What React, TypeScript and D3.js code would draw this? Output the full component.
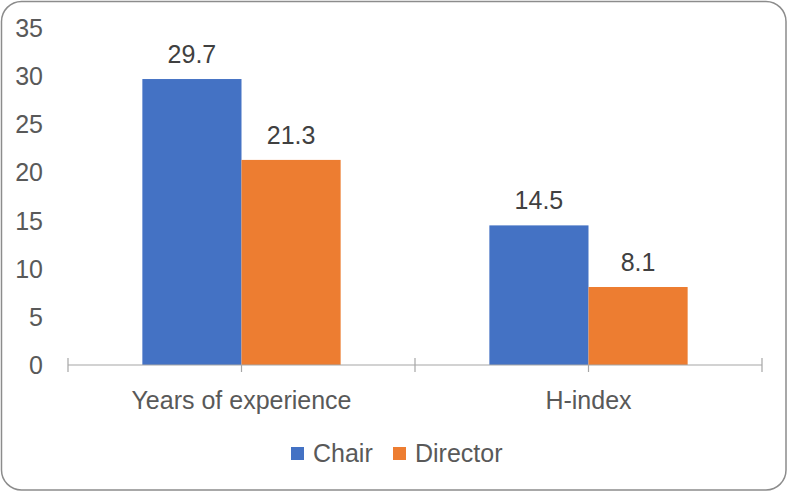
import React from "react";
import * as d3 from "d3";

const categories = ["Years of experience", "H-index"];
const seriesNames = ["Chair", "Director"];
const chairValues = [29.7, 14.5];
const directorValues = [21.3, 8.1];
const yTicks = [0, 5, 10, 15, 20, 25, 30, 35];
const colors = ["#4472C4", "#ED7D31"];

const W = 788;
const H = 492;
const FONT = "'Liberation Sans', Arial, sans-serif";
const FS = 25;

export default function App() {
  const x0 = d3.scaleBand<string>().domain(categories).range([68, 762]).paddingInner(0).paddingOuter(0);
  const x1 = d3.scaleBand<string>().domain(seriesNames).range([0, x0.bandwidth()]).paddingInner(0).paddingOuter(0.75);
  const y = d3.scaleLinear().domain([0, 35]).range([365, 28]);
  const values = [chairValues, directorValues];
  const fmt = d3.format(".1f");
  const baseY = y(0);
  const boundaries = [...categories.map((c) => x0(c)!), x0(categories[categories.length - 1])! + x0.bandwidth()];

  return (
    <svg width={W} height={H} style={{ position: "absolute", left: 0, top: 0, fontFamily: FONT }}>
      <rect x={0} y={0} width={W} height={H} fill="#ffffff" />
      <rect x={1.5} y={1.5} width={W - 3.5} height={H - 3.5} rx={20} ry={20} fill="#ffffff" stroke="#8c8c8c" strokeWidth={1.5} />
      {yTicks.map((t) => (
        <text key={t} x={43} y={y(t)} dy="0.36em" textAnchor="end" fontSize={FS} fill="#595959">
          {t}
        </text>
      ))}
      {categories.map((c, ci) =>
        seriesNames.map((s, si) => {
          const v = values[si][ci];
          const bx = x0(c)! + x1(s)!;
          return (
            <g key={c + s}>
              <rect x={bx} y={y(v)} width={x1.bandwidth()} height={baseY - y(v)} fill={colors[si]} />
              <text x={bx + x1.bandwidth() / 2} y={y(v) - 16} textAnchor="middle" fontSize={FS} fill="#404040">
                {fmt(v)}
              </text>
            </g>
          );
        })
      )}
      <line x1={68} x2={762} y1={baseY} y2={baseY} stroke="#a6a6a6" strokeWidth={1.2} />
      {boundaries.map((bx, i) => (
        <line key={"b" + i} x1={bx} x2={bx} y1={baseY - 7} y2={baseY + 7} stroke="#a6a6a6" strokeWidth={1.2} />
      ))}
      {categories.map((c) => (
        <line key={"m" + c} x1={x0(c)! + x0.bandwidth() / 2} x2={x0(c)! + x0.bandwidth() / 2} y1={baseY} y2={baseY + 7} stroke="#a6a6a6" strokeWidth={1.2} />
      ))}
      {categories.map((c) => (
        <text key={"c" + c} x={x0(c)! + x0.bandwidth() / 2} y={409} textAnchor="middle" fontSize={FS} fill="#595959">
          {c}
        </text>
      ))}
      {seriesNames.map((s, i) => {
        const lx = [291, 393][i];
        return (
          <g key={"l" + s}>
            <rect x={lx} y={447} width={13} height={13} fill={colors[i]} />
            <text x={lx + 22} y={462} fontSize={FS} fill="#595959">
              {s}
            </text>
          </g>
        );
      })}
    </svg>
  );
}
